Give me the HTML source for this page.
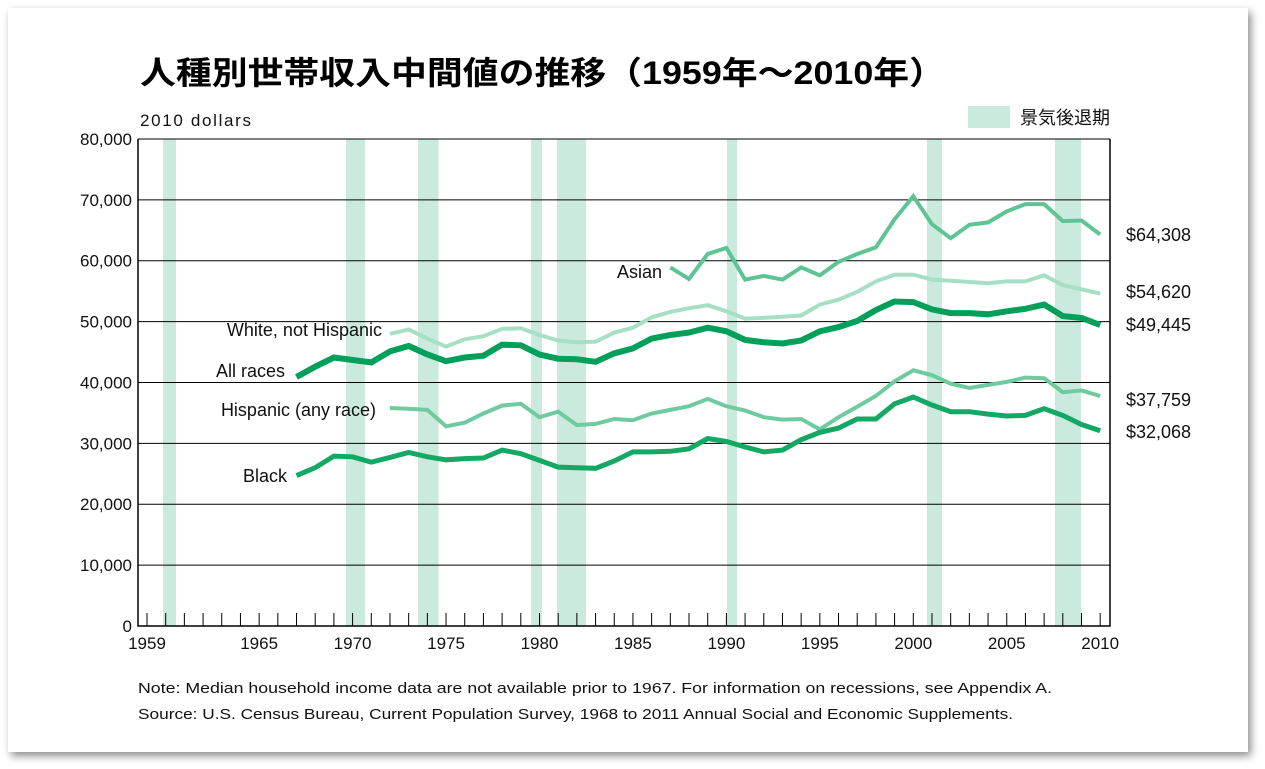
<!DOCTYPE html>
<html><head><meta charset="utf-8">
<style>
body{margin:0;background:#fff;width:1265px;height:769px;overflow:hidden;font-family:"Liberation Sans","Noto Sans CJK JP",sans-serif;}
#card{position:absolute;left:8px;top:8px;width:1240px;height:744px;background:#fff;box-shadow:3px 4px 8px rgba(0,0,0,.45);}
</style></head>
<body>
<div id="card"></div>
<svg id="chart" width="1265" height="769" style="position:absolute;left:0;top:0">
<text x="140" y="84" font-size="32" font-weight="bold" fill="#000" textLength="805" lengthAdjust="spacingAndGlyphs" font-family="'Liberation Sans','Noto Sans CJK JP',sans-serif">人種別世帯収入中間値の推移（1959年～2010年）</text>
<text x="140" y="126" font-size="17" fill="#111" textLength="111">2010 dollars</text>
<rect x="968" y="106" width="42" height="22" fill="#c9eadc"/>
<text x="1020" y="124" font-size="18" fill="#111" font-family="'Liberation Sans','Noto Sans CJK JP',sans-serif">景気後退期</text>
<g id="bands"></g><g id="grid"></g><g id="lines"></g><g id="axes"></g>
<text x="138" y="693" font-size="14.5" fill="#111" textLength="914" lengthAdjust="spacingAndGlyphs">Note: Median household income data are not available prior to 1967. For information on recessions, see Appendix A.</text>
<text x="138" y="719" font-size="14.5" fill="#111" textLength="875" lengthAdjust="spacingAndGlyphs">Source: U.S. Census Bureau, Current Population Survey, 1968 to 2011 Annual Social and Economic Supplements.</text>
</svg>
<script>
const recessionStarts=[1959.86,1969.65,1973.5,1979.55,1980.94,1990.03,2000.73,2007.58];
const recessionEnds=[1960.55,1970.66,1974.6,1980.13,1982.49,1990.57,2001.54,2008.97];
const yTicks=[0,10000,20000,30000,40000,50000,60000,70000,80000];
const xLabels=[1959,1965,1970,1975,1980,1985,1990,1995,2000,2005,2010];
const allRaces=[40900,42600,44100,43700,43300,45100,46000,44600,43500,44100,44400,46200,46100,44600,43900,43800,43400,44800,45600,47200,47800,48200,49000,48400,47000,46600,46400,46900,48400,49100,50100,51900,53300,53200,52000,51400,51400,51200,51700,52100,52800,50900,50600,49445];
const white=[48000,48700,47200,45900,47100,47600,48800,48900,47800,46900,46600,46700,48200,49000,50700,51600,52200,52700,51700,50500,50600,50800,51000,52800,53600,54900,56600,57700,57700,56900,56700,56500,56300,56600,56600,57600,56000,55300,54620];
const hispanic=[35800,35700,35500,32800,33400,34900,36200,36500,34300,35200,33000,33200,34000,33800,34900,35500,36100,37300,36100,35400,34300,33900,34000,32300,34300,36000,37800,40200,42000,41200,39800,39100,39600,40100,40800,40700,38400,38700,37759];
const black=[24700,26000,27900,27800,26900,27700,28500,27800,27300,27500,27600,28900,28300,27200,26100,26000,25900,27100,28600,28600,28700,29100,30800,30300,29400,28600,28900,30600,31800,32500,34000,34000,36500,37600,36300,35200,35200,34800,34500,34600,35700,34600,33100,32068];
const asian=[58900,57000,61100,62100,56900,57500,56900,58900,57600,59800,61100,62200,66800,70600,66000,63700,65900,66300,68100,69300,69300,66500,66600,64308];
const endLabels=["$64,308","$54,620","$49,445","$37,759","$32,068"];

const NS="http://www.w3.org/2000/svg";
const X=y=>147+(y-1959)*18.69;
const Y=v=>626-v*0.006088;
function mk(tag,attrs,parent,txt){const e=document.createElementNS(NS,tag);for(const k in attrs)e.setAttribute(k,attrs[k]);if(txt!==undefined)e.textContent=txt;document.getElementById(parent).appendChild(e);return e;}

recessionStarts.forEach((s,i)=>{
 const r=mk('rect',{x:X(s),y:139,width:X(recessionEnds[i])-X(s),height:487,fill:'#c9eadc'},'bands');
 
 
});
yTicks.forEach(v=>{
 if(v>0){const l=mk('line',{x1:138,x2:1110,y1:Y(v),y2:Y(v),stroke:'#000','stroke-width':1},'grid');
 
 }
 const t=mk('text',{x:132,y:Y(v)+6,'text-anchor':'end','font-size':17,fill:'#111'},'axes',v.toLocaleString('en-US'));
 
 
});
const ax=mk('path',{d:'M138,139V626H1110V139',fill:'none',stroke:'#000','stroke-width':1.5},'axes');


for(let yr=1959;yr<=2010;yr++){
 const t=mk('line',{x1:X(yr),x2:X(yr),y1:613,y2:626,stroke:'#000','stroke-width':1},'axes');
 
 
}
xLabels.forEach(yr=>{
 const t=mk('text',{x:X(yr),y:649,'text-anchor':'middle','font-size':17,fill:'#111'},'axes',String(yr));
 
 
});
function series(arr,start,color,w,name){
 const d=arr.map((v,i)=>(i?'L':'M')+X(start+i).toFixed(1)+','+Y(v).toFixed(1)).join('');
 const p=mk('path',{d:d,fill:'none',stroke:color,'stroke-width':w,'stroke-linejoin':'miter'},'lines');
 
 
}
series(white,1972,'#a5dfc4',4,'line-white-not-hispanic');
series(hispanic,1972,'#6fcb9f',4,'line-hispanic');
series(asian,1987,'#5ec494',4,'line-asian');
series(black,1967,'#14a865',5,'line-black');
series(allRaces,1967,'#00a05a',6,'line-all-races');
const lbls=[["Asian",662,278],["White, not Hispanic",382,336],["All races",285,377],["Hispanic (any race)",376,416],["Black",287,482]];
lbls.forEach(l=>{const t=mk('text',{x:l[1],y:l[2],'text-anchor':'end','font-size':18,fill:'#111'},'axes',l[0]);
 
 });
const endY=[241,298,331,406,438];
endLabels.forEach((s,i)=>{const t=mk('text',{x:1126,y:endY[i],'font-size':18,fill:'#111'},'axes',s);
 
 });
</script>
</body></html>
